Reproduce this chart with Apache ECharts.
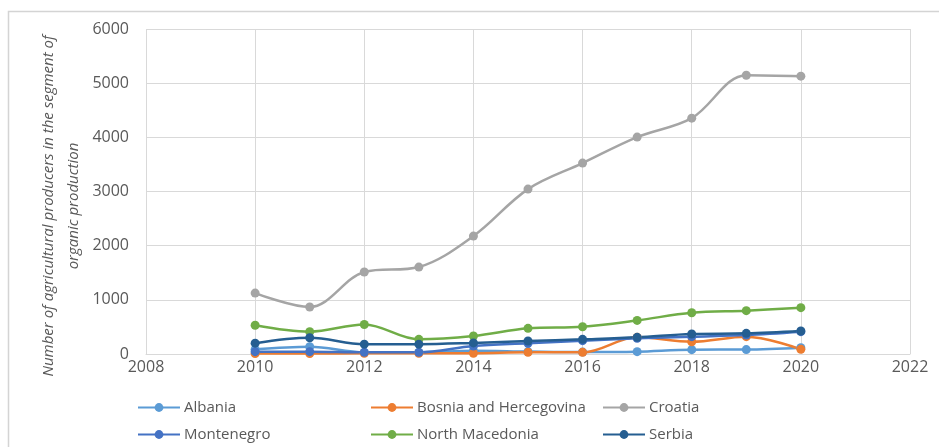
<!DOCTYPE html>
<html>
<head>
<meta charset="utf-8">
<script src="https://cdn.jsdelivr.net/npm/echarts@6/dist/echarts.min.js"></script>
<style>
  html, body { margin: 0; padding: 0; background: #ffffff; }
  #chart { width: 939px; height: 447px; }
</style>
</head>
<body>
<div id="chart"></div>
<script>
// Organic producers per country, 2010–2020
const years = [2010, 2011, 2012, 2013, 2014, 2015, 2016, 2017, 2018, 2019, 2020];
const albania    = [86, 135, 31, 31, 60, 45, 35, 43, 80, 82, 117];
const bosnia     = [10, 10, 12, 12, 13, 31, 31, 308, 227, 320, 86];
const croatia    = [1125, 867, 1513, 1605, 2177, 3044, 3524, 4004, 4354, 5147, 5129];
const montenegro = [43, 43, 31, 31, 148, 197, 246, 289, 320, 350, 412];
const macedonia  = [530, 412, 545, 271, 332, 474, 504, 620, 762, 800, 855];
const serbia     = [200, 300, 182, 182, 205, 240, 271, 308, 370, 381, 425];

const seriesNames = ['Albania', 'Bosnia and Hercegovina', 'Croatia', 'Montenegro', 'North Macedonia', 'Serbia'];
const seriesData = [albania, bosnia, croatia, montenegro, macedonia, serbia];
const colors = ['#5B9BD5', '#ED7D31', '#A5A5A5', '#4472C4', '#70AD47', '#255E91'];

const FONT = '"Open Sans", "Noto Sans", sans-serif';
const TEXT = '#595959';
const GRID = '#d9d9d9';

// legend slots: two rows of three
const legendLeft = [137, 370, 602];
const legendTop = [400, 427];

const legends = seriesNames.map((name, i) => ({
  data: [name],
  left: legendLeft[i % 3],
  top: legendTop[Math.floor(i / 3)],
  itemWidth: 42,
  itemHeight: 11,
  itemGap: 0,
  padding: 0,
  textStyle: { color: TEXT, fontFamily: FONT, fontSize: 15, padding: [0, 0, 0, -1] }
}));

const series = seriesNames.map((name, i) => ({
  name: name,
  type: 'line',
  smooth: 0.35,
  data: years.map((y, k) => [y, seriesData[i][k]]),
  symbol: 'circle',
  symbolSize: 9,
  lineStyle: { width: 2.5, color: colors[i] },
  itemStyle: { color: colors[i] },
  emphasis: { disabled: true }
}));

const chart = echarts.init(document.getElementById('chart'), null, { renderer: 'canvas' });
chart.setOption({
  animation: false,
  color: colors,
  grid: { left: 146, right: 29, top: 29, bottom: 93 },
  graphic: [{
    type: 'rect',
    shape: { x: 8.5, y: 11.5, width: 1000, height: 600 },
    style: { fill: 'none', stroke: '#d4d4d4', lineWidth: 1.5 },
    silent: true
  }, {
    type: 'text',
    x: 61,
    y: 206,
    rotation: Math.PI / 2,
    silent: true,
    style: {
      text: 'Number of agricultural producers in the segment of\norganic production',
      fill: TEXT,
      font: 'italic 15px ' + FONT,
      lineHeight: 25,
      align: 'center',
      verticalAlign: 'middle'
    }
  }],
  legend: legends,
  xAxis: {
    type: 'value',
    min: 2008,
    max: 2022,
    interval: 2,
    axisLine: { show: true, lineStyle: { color: GRID, width: 1 } },
    axisTick: { show: false },
    splitLine: { show: true, lineStyle: { color: GRID, width: 1 } },
    axisLabel: { color: TEXT, fontFamily: FONT, fontSize: 16, margin: 5, formatter: v => String(v) }
  },
  yAxis: {
    type: 'value',
    min: 0,
    max: 6000,
    interval: 1000,
    axisLine: { show: false },
    axisTick: { show: false },
    splitLine: { show: true, lineStyle: { color: GRID, width: 1 } },
    axisLabel: { color: TEXT, fontFamily: FONT, fontSize: 16, margin: 17, formatter: v => String(v) }
  },
  series: series
});
</script>
</body>
</html>
